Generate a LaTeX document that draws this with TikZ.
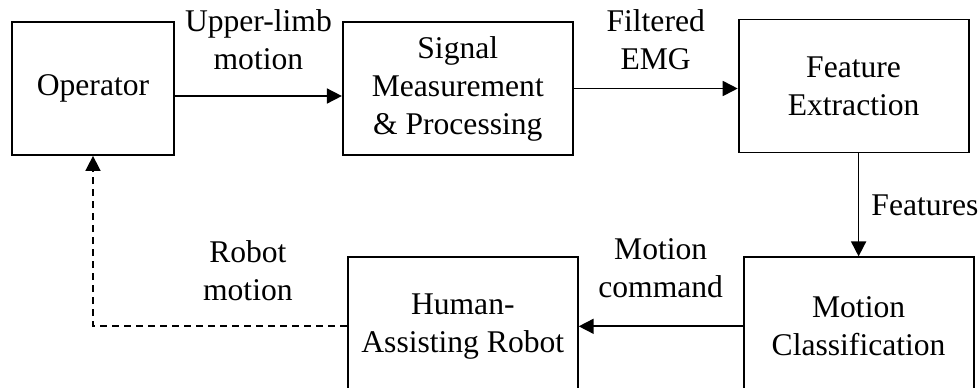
\documentclass[tikz,border=0pt]{standalone}
\usepackage{fontspec}
\setmainfont{Liberation Serif}
\usetikzlibrary{positioning,arrows.meta}

\begin{document}
\begin{tikzpicture}[
  node distance=51.5pt and 82pt,
  block/.style={draw, line width=0.9pt, minimum width=115pt, minimum height=66.5pt, inner sep=0pt, align=center, font=\fontsize{15.8pt}{19pt}\selectfont},
  lowblock/.style={block, minimum height=69pt},
  tag/.style={inner sep=0pt, align=center, font=\fontsize{15.8pt}{19pt}\selectfont},
  arrow/.style={-{Triangle[length=7.5pt,width=7.5pt]}, line width=0.85pt},
  feedback/.style={arrow, dash pattern=on 3.5pt off 2.5pt}
]
\useasboundingbox (0,0) rectangle (489.5pt,-193.5pt);
\node[block, minimum width=81pt] (operator) at (46.5pt,-44.25pt) {Operator};
\node[block, right=83.5pt of operator] (signal) {Signal\\Measurement\\\& Processing};
\node[block, right=of signal, yshift=1.25pt] (feature) {Feature\\Extraction};
\node[lowblock, below=of feature, xshift=2.5pt] (classify) {Motion\\Classification};
\node[lowblock, left=of classify] (robot) {Human-\\Assisting Robot};
\draw[arrow] ([yshift=-3.75pt]operator.east) -- node[tag, above=12.5pt] (limb) {Upper-limb\\motion} ([yshift=-3.75pt]signal.west);
\draw[arrow] (signal.east) -- node[tag, above=9pt] (emg) {Filtered\\EMG} (signal.east -| feature.west);
\draw[arrow] (classify.north |- feature.south) -- node[tag, right=6pt] (feat) {Features} (classify.north);
\draw[arrow] (classify) -- node[tag, above=14pt] (cmd) {Motion\\command} (robot);
\draw[feedback] (robot.west) -| node[tag, pos=0.195, above=12.5pt] (rmotion) {Robot\\motion} (operator.south);
\end{tikzpicture}
\end{document}
